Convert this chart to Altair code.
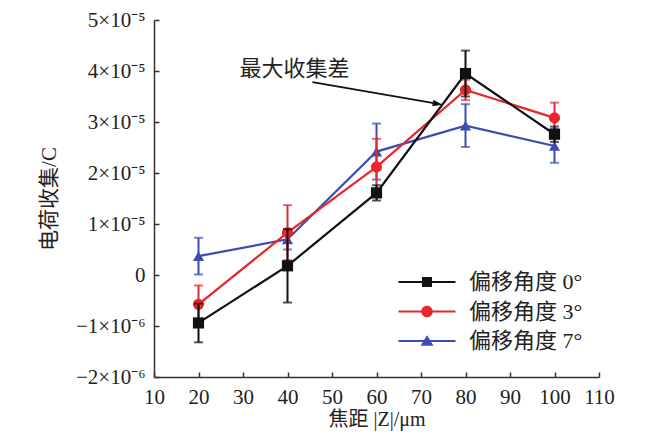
import altair as alt
import pandas as pd

# ---- data ----
focal = [20, 40, 60, 80, 100]
series_names = ["偏移角度 0°", "偏移角度 3°", "偏移角度 7°"]
charge_0 = [-0.94e-5, 0.18e-5, 1.61e-5, 3.95e-5, 2.76e-5]
err_0 = [0.38e-5, 0.72e-5, 0.15e-5, 0.45e-5, 0.15e-5]
charge_3 = [-0.575e-5, 0.83e-5, 2.12e-5, 3.63e-5, 3.08e-5]
err_3 = [0.37e-5, 0.54e-5, 0.55e-5, 0.20e-5, 0.30e-5]
charge_7 = [0.37e-5, 0.70e-5, 2.42e-5, 2.93e-5, 2.53e-5]
err_7 = [0.36e-5, 0.20e-5, 0.55e-5, 0.42e-5, 0.33e-5]
colors = ["#111111", "#e8262b", "#3b4db3"]
marker_shapes = ["square", "circle", "triangle-up"]

x_ticks = [10, 20, 30, 40, 50, 60, 70, 80, 90, 100, 110]
y_ticks = [-2e-5, -1e-5, 0, 1e-5, 2e-5, 3e-5, 4e-5, 5e-5]
y_tick_labels = ["−2×10⁻⁶", "−1×10⁻⁶", "0", "1×10⁻⁵", "2×10⁻⁵", "3×10⁻⁵", "4×10⁻⁵", "5×10⁻⁵"]

annot_text = "最大收集差"
annot_text_pos = [29.2, 4.04e-5]
arrow_start = [45.6, 3.78e-5]
arrow_end = [74.2, 3.35e-5]

# legend symbols: line + marker, as custom paths
legend_paths = [
    "M-5.7,-0.2H5.7V0.2H-5.7Z M-1,-1H1V1H-1Z",
    "M-5.7,-0.2H5.7V0.2H-5.7Z M-1.15,0A1.15,1.15 0 1,1 1.15,0A1.15,1.15 0 1,1 -1.15,0Z",
    "M-5.7,-0.2H5.7V0.2H-5.7Z M0,-1.15L1.3,0.95L-1.3,0.95Z",
]

SERIF = "Liberation Serif, Times New Roman, Noto Sans CJK SC"

rows = []
for name, ys, es in [(series_names[0], charge_0, err_0),
                     (series_names[1], charge_3, err_3),
                     (series_names[2], charge_7, err_7)]:
    for xv, yv, ev in zip(focal, ys, es):
        rows.append({"series": name, "z": xv, "q": yv, "lo": yv - ev, "hi": yv + ev})
df = pd.DataFrame(rows)

xscale = alt.Scale(domain=[10, 110], nice=False, zero=False)
yscale = alt.Scale(domain=[-2e-5, 5e-5], nice=False, zero=False)

label_list = "[" + ",".join("'" + s + "'" for s in y_tick_labels) + "]"

x_axis = alt.Axis(values=x_ticks, title="焦距 |Z|/μm", grid=False, labelFlush=False,
                  tickSize={"expr": "-5"}, labelPadding=14,
                  labelFont=SERIF, labelFontSize=21, labelColor="#222",
                  titleFont=SERIF, titleFontSize=20, titleFontWeight="normal",
                  titleColor="#222", titlePadding=2,
                  domainColor="#333", tickColor="#333", domainWidth=1.5, tickWidth=1.5)
y_axis = alt.Axis(values=y_ticks, title="电荷收集/C", grid=False, labelFlush=False,
                  labelExpr=label_list + "[round(datum.value*1e5)+2]",
                  tickSize={"expr": "-5"}, labelPadding=14,
                  labelFont=SERIF, labelFontSize=21, labelColor="#222",
                  titleFont=SERIF, titleFontSize=21, titleFontWeight="normal",
                  titleColor="#222", titlePadding=16,
                  domainColor="#333", tickColor="#333", domainWidth=1.5, tickWidth=1.5)

base = alt.Chart(df)
X = alt.X("z:Q", scale=xscale, axis=x_axis)
Y = alt.Y("q:Q", scale=yscale, axis=y_axis)

layers = []
for idx in [2, 1, 0]:
    name = series_names[idx]
    col = colors[idx]
    sub = base.transform_filter(alt.datum.series == name)
    layers.append(sub.mark_rule(color=col, strokeWidth=2).encode(
        x=alt.X("z:Q", scale=xscale), y=alt.Y("lo:Q", scale=yscale), y2="hi:Q"))
    layers.append(sub.mark_tick(color=col, orient="horizontal", size=9, thickness=2).encode(
        x=alt.X("z:Q", scale=xscale), y=alt.Y("lo:Q", scale=yscale)))
    layers.append(sub.mark_tick(color=col, orient="horizontal", size=9, thickness=2).encode(
        x=alt.X("z:Q", scale=xscale), y=alt.Y("hi:Q", scale=yscale)))
    layers.append(sub.mark_line(color=col, strokeWidth=2.2).encode(x=X, y=Y))
    layers.append(sub.mark_point(color=col, filled=True, opacity=1,
                                 shape=marker_shapes[idx], size=125).encode(
        x=alt.X("z:Q", scale=xscale), y=alt.Y("q:Q", scale=yscale)))

legend_def = alt.Legend(orient="none", legendX=262, legendY=251, title=None,
                        symbolSize=100, symbolStrokeWidth=0, symbolOpacity=1,
                        labelFont=SERIF, labelFontSize=22, labelColor="#222",
                        labelOffset=31, rowPadding=7.5, padding=0)
legend_layer = base.mark_point(filled=True, opacity=0).encode(
    x=alt.X("z:Q", scale=xscale), y=alt.Y("q:Q", scale=yscale),
    color=alt.Color("series:N", scale=alt.Scale(domain=series_names, range=colors),
                    legend=legend_def, sort=series_names),
    shape=alt.Shape("series:N", scale=alt.Scale(domain=series_names, range=legend_paths),
                    legend=legend_def, sort=series_names),
)
layers.append(legend_layer)

ann_df = pd.DataFrame({"x": [annot_text_pos[0]], "y": [annot_text_pos[1]], "t": [annot_text]})
layers.append(alt.Chart(ann_df).mark_text(align="left", baseline="middle", font=SERIF,
                                          fontSize=22, color="#222").encode(
    x=alt.X("x:Q", scale=xscale), y=alt.Y("y:Q", scale=yscale), text="t:N"))

arr_df = pd.DataFrame({"x": [arrow_start[0]], "y": [arrow_start[1]],
                       "x2": [arrow_end[0]], "y2": [arrow_end[1]]})
layers.append(alt.Chart(arr_df).mark_rule(color="#111", strokeWidth=1.8).encode(
    x=alt.X("x:Q", scale=xscale), y=alt.Y("y:Q", scale=yscale), x2="x2:Q", y2="y2:Q"))
head_df = pd.DataFrame({"x": [arrow_end[0]], "y": [arrow_end[1]]})
layers.append(alt.Chart(head_df).mark_point(filled=True, color="#111", opacity=1, size=100,
                                            shape="M0.6,0L-1.4,-0.65L-1.4,0.65Z", angle=10).encode(
    x=alt.X("x:Q", scale=xscale), y=alt.Y("y:Q", scale=yscale)))

chart = alt.layer(*layers).properties(
    width=445, height=357,
    padding={"left": 146, "top": 12, "right": 20, "bottom": 55},
    autosize=alt.AutoSizeParams(type="none"),
    background="white",
).configure_view(stroke=None)

chart.save("out.html", embed_options={"renderer": "svg", "actions": False})
